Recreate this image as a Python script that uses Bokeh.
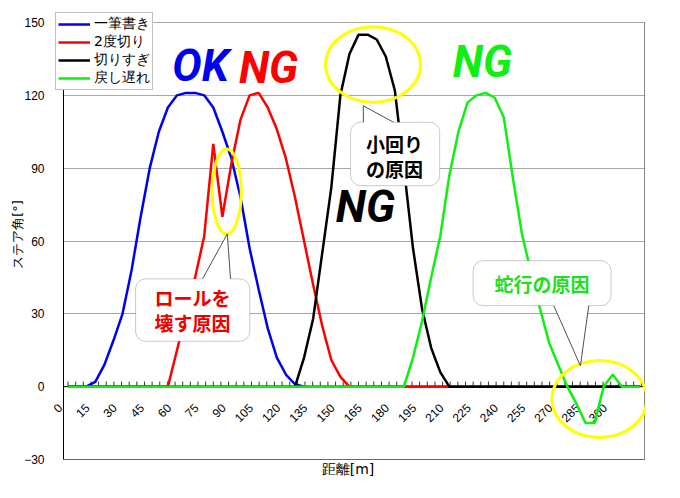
import numpy as np
from bokeh.plotting import figure
from bokeh.models import FixedTicker, Range1d, BoxAnnotation, Label
from bokeh.embed import file_html
from bokeh.resources import INLINE

# ---------------- data ----------------
distance = list(range(0, 316, 5))  # 距離[m]

ippitsu = [0, 0, 0, 2, 9, 19, 30, 48, 70, 90, 105, 115, 120, 121, 121, 120,
           115, 105, 94, 78, 57, 40, 24, 12, 5, 1, 0, 0, 0, 0, 0, 0,
           0, 0, 0, 0, 0, 0, 0, 0, 0, 0, 0, 0, 0, 0, 0, 0,
           0, 0, 0, 0, 0, 0, 0, 0, 0, 0, 0, 0, 0, 0, 0, 0]
nido = [0, 0, 0, 0, 0, 0, 0, 0, 0, 0, 0, 0, 15, 30, 45, 62,
        100, 70, 92, 110, 120, 121, 115, 106, 94, 78, 60, 42, 25, 11, 4, 0,
        0, 0, 0, 0, 0, 0, 0, 0, 0, 0, 0, 0, 0, 0, 0, 0,
        0, 0, 0, 0, 0, 0, 0, 0, 0, 0, 0, 0, 0, 0, 0, 0]
kirisugi = [0, 0, 0, 0, 0, 0, 0, 0, 0, 0, 0, 0, 0, 0, 0, 0,
            0, 0, 0, 0, 0, 0, 0, 0, 0, 0, 12, 28, 55, 82, 120, 137,
            145, 145, 143, 136, 122, 90, 57, 32, 16, 6, 0, 0, 0, 0, 0, 0,
            0, 0, 0, 0, 0, 0, 0, 0, 0, 0, 0, 0, 0, 0, 0, 0]
modoshi = [0, 0, 0, 0, 0, 0, 0, 0, 0, 0, 0, 0, 0, 0, 0, 0,
           0, 0, 0, 0, 0, 0, 0, 0, 0, 0, 0, 0, 0, 0, 0, 0,
           0, 0, 0, 0, 0, 0, 12, 27, 45, 62, 87, 105, 117, 120, 121, 119,
           111, 86, 63, 47, 32, 18, 9, 0, -7, -15, -15, 0, 5, 0, 0, 0]

series_names = ["一筆書き", "2度切り", "切りすぎ", "戻し遅れ"]
series_colors = ["#0000f0", "#ff0000", "#000000", "#11ee11"]

xtick_values = [0, 15, 30, 45, 60, 75, 90, 105, 120, 135, 150, 165, 180, 195,
                210, 225, 240, 255, 270, 285, 300]
xtick_labels = [str(v) for v in xtick_values]
ytick_values = [-30, 0, 30, 60, 90, 120, 150]

# plot-area limits (category axis: half a category beyond first/last point)
X_LO, X_HI = -2.5, 317.5
Y_LO, Y_HI = -30, 150

LAT = "Liberation Sans"
DJ = "DejaVu Sans"
JP = "Noto Sans CJK JP"

# ---------------- figure ----------------
# the frame is a little larger than the plot area so that the legend and the
# "0" tick label, which stick out of the plot area, are not clipped
p = figure(width=664, height=482, output_backend="svg", toolbar_location=None,
           x_range=Range1d(-9.66, 318.05), y_range=Range1d(-30.41, 155.77),
           min_border_left=50, min_border_right=19, min_border_top=8,
           min_border_bottom=22, background_fill_color="white",
           border_fill_color="white")
p.outline_line_color = None

p.xgrid.visible = False
p.ygrid.ticker = FixedTicker(ticks=ytick_values)
p.ygrid.grid_line_color = "#a8a8a8"
p.ygrid.grid_line_width = 1
# hide grid overhang left of the plot area
p.add_layout(BoxAnnotation(right=X_LO, fill_color="white", fill_alpha=1,
                           line_color=None, level="underlay"))

ya = p.yaxis[0]
ya.ticker = FixedTicker(ticks=ytick_values)
ya.major_label_overrides = {-30: "−30"}
ya.axis_line_color = None
ya.major_tick_line_color = None
ya.minor_tick_line_color = None
ya.major_label_standoff = 0
ya.major_label_text_font = LAT
ya.major_label_text_font_size = "12px"
ya.major_label_text_color = "black"
ya.axis_label = "ステア角[°]"
ya.axis_label_text_font = DJ
ya.axis_label_text_font_size = "13px"
ya.axis_label_text_font_style = "normal"
ya.axis_label_text_color = "black"
ya.axis_label_standoff = -4

xa = p.xaxis[0]
xa.ticker = FixedTicker(ticks=[])
xa.axis_line_color = None
xa.major_tick_line_color = None
xa.minor_tick_line_color = None
xa.axis_label = "距離[m]"
xa.axis_label_text_font = DJ
xa.axis_label_text_font_size = "14px"
xa.axis_label_text_font_style = "normal"
xa.axis_label_text_color = "black"
xa.axis_label_standoff = 0

# x tick labels (rotated, hanging under the zero line)
for tv, tl in zip(xtick_values, xtick_labels):
    p.add_layout(Label(x=tv, y=0, text=tl, level="underlay",
                       angle=45, angle_units="deg", text_align="right",
                       text_baseline="middle", x_offset=-8, y_offset=-19,
                       text_font=LAT, text_font_size="12px", text_color="black"))

# plot-area border: left axis line black, right / bottom grey
p.segment(x0=[X_LO, X_HI, X_LO], y0=[Y_LO, Y_LO, Y_LO],
          x1=[X_LO, X_HI, X_HI], y1=[Y_HI, Y_HI, Y_LO],
          line_color=["black", "#858585", "#666666"], line_width=1)
# zero axis line with small ticks
p.segment(x0=[X_LO], y0=[0], x1=[X_HI], y1=[0], line_color="black", line_width=1)
minor_ticks = np.arange(0, 317, 4.21)
p.segment(x0=minor_ticks, y0=0, x1=minor_ticks, y1=2.1,
          line_color="#333333", line_width=1)

# series
for vals, name, col in zip([ippitsu, nido, kirisugi, modoshi], series_names, series_colors):
    p.line(distance, vals, line_color=col, line_width=2.5, legend_label=name)

lg = p.legend[0]
lg.location = (5, 370)
lg.label_text_font = DJ
lg.label_text_font_size = "14px"
lg.label_text_color = "black"
lg.glyph_width = 32
lg.glyph_height = 14
lg.label_height = 14
lg.spacing = 0
lg.padding = 2
lg.margin = 0
lg.label_standoff = 4
lg.border_line_color = "#808080"
lg.border_line_width = 1
lg.background_fill_alpha = 1

# yellow ellipses
p.ellipse(x=[87.4, 168.0, 292.7], y=[80.4, 132.7, -5.1],
          width=[16, 52.3, 52.3], height=[35, 31.2, 31.7],
          fill_color=None, line_color="#ffff00", line_width=3)

# callouts
def callout(left, right, bottom, top, bl, tip, br, lines, color):
    p.add_layout(BoxAnnotation(left=left, right=right, bottom=bottom, top=top,
                               fill_color="white", fill_alpha=1,
                               line_color="#505050", line_width=1,
                               border_radius=10))
    k = 0.12
    bli = (bl[0] + (bl[0] - tip[0]) * k, bl[1] + (bl[1] - tip[1]) * k)
    bri = (br[0] + (br[0] - tip[0]) * k, br[1] + (br[1] - tip[1]) * k)
    r1 = p.patch([bli[0], tip[0], bri[0]], [bli[1], tip[1], bri[1]],
                 fill_color="white", line_color=None)
    r1.level = "overlay"
    r2 = p.line([bl[0], tip[0], br[0]], [bl[1], tip[1], br[1]],
                line_color="#505050", line_width=1)
    r2.level = "overlay"
    for (tx, ty, t) in lines:
        p.add_layout(Label(x=tx, y=ty, text=t, text_align="center",
                           text_baseline="middle", text_font=JP,
                           text_font_style="bold", text_font_size="19px",
                           text_color=color))

callout(37.2, 100.1, 18.7, 44.4, (74.1, 44.4), (87.7, 62.9), (89.5, 44.4),
        [(68.5, 36.7, "ロールを"), (68.5, 26.4, "壊す原因")], "#ee0000")
callout(155.6, 204.7, 82.8, 108.9, (162.7, 108.9), (162.6, 115.7), (179.3, 108.9),
        [(179.8, 100.1, "小回り"), (179.8, 89.8, "の原因")], "#000000")
callout(223.1, 299.1, 33.4, 51.9, (267.5, 33.4), (282.2, 8.6), (286.8, 33.4),
        [(261.0, 42.4, "蛇行の原因")], "#22dd22")

# big OK / NG marks
for (tx, ty, t, col) in [(73.0, 132.2, "OK", "#0000f0"), (110.4, 131.4, "NG", "#ff0000"),
                         (228.2, 133.9, "NG", "#11ee11"), (163.8, 74.1, "NG", "#000000")]:
    p.add_layout(Label(x=tx, y=ty, text=t, text_align="center", text_baseline="middle",
                       text_font="Roboto", text_font_style="bold italic",
                       text_font_size="44px", text_color=col))

open("out.html", "w").write(file_html(p, INLINE))
